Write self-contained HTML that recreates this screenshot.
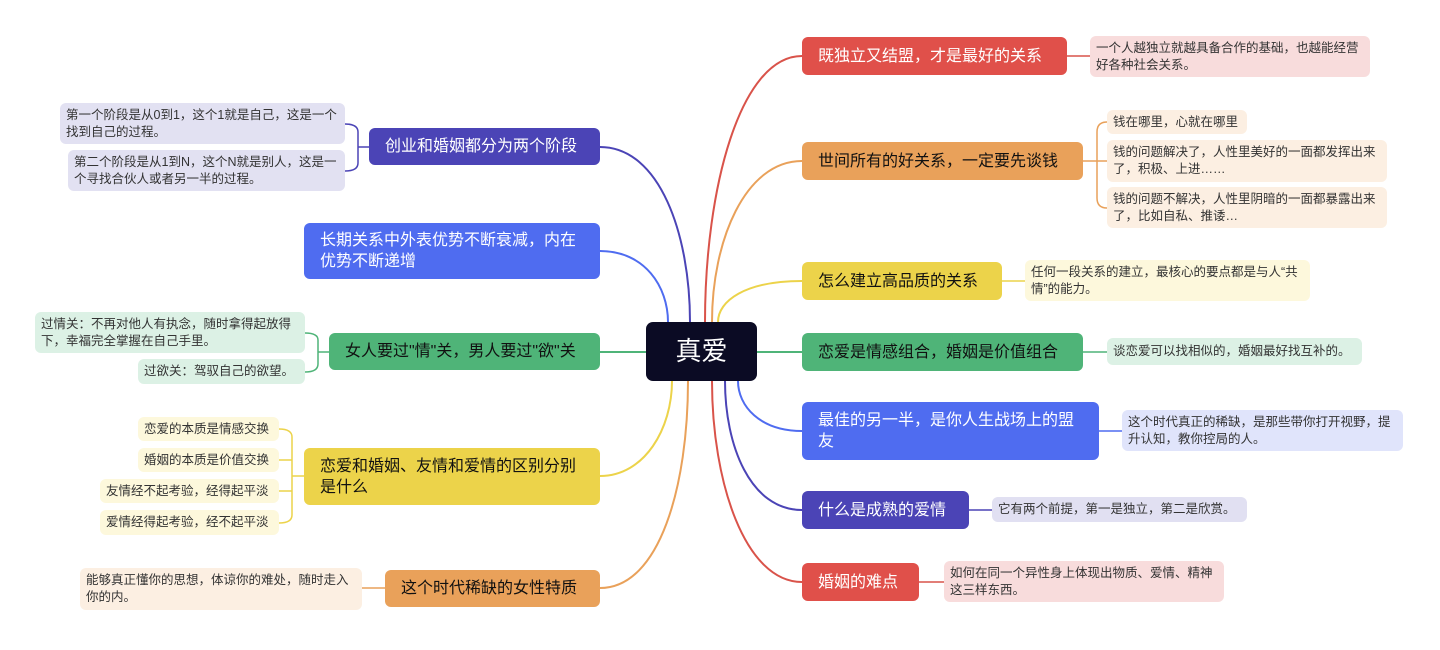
<!DOCTYPE html>
<html><head><meta charset="utf-8"><style>
body{margin:0;width:1440px;height:650px;background:#fff;position:relative;overflow:hidden;font-family:"Liberation Sans","Noto Sans CJK SC",sans-serif}
.n{position:absolute;box-sizing:border-box;border-radius:6px;display:flex;align-items:center;padding:0 16px;font-size:16px;line-height:21px}
.l{position:absolute;box-sizing:border-box;border-radius:6px;display:flex;align-items:center;padding:0 6px;font-size:12.5px;line-height:17px;color:#333}
.w{color:#fff}.d{color:#111}
svg{position:absolute;left:0;top:0}
</style></head><body>
<svg width="1440" height="650" fill="none" stroke-width="2">
<path d="M705,322 C705,189 740,56 802,56" stroke="#d9534a"/>
<path d="M712,322 C712,241 745,161 802,161" stroke="#e9a15a"/>
<path d="M718,322 C718,301 745,281 802,281" stroke="#ecd34a"/>
<path d="M757,352 L802,352" stroke="#4fb478"/>
<path d="M738,381 C738,406 760,431 802,431" stroke="#4f6cf0"/>
<path d="M725,381 C725,445 750,510 802,510" stroke="#4b44b6"/>
<path d="M712,381 C712,482 745,582 802,582" stroke="#d9534a"/>
<path d="M690,322 C690,235 660,147 600,147" stroke="#4b44b6"/>
<path d="M668,322 C668,287 645,251 600,251" stroke="#4f6cf0"/>
<path d="M646,352 L600,352" stroke="#4fb478"/>
<path d="M672,381 C672,428 645,476 600,476" stroke="#ecd34a"/>
<path d="M688,381 C688,485 660,588 600,588" stroke="#e9a15a"/>
<path d="M1067,56 L1090,56" stroke="#d9534a" stroke-width="1.5"/>
<path d="M1083,161 L1097,161 M1107,122 Q1097,122 1097,132 L1097,198 Q1097,208 1107,208 M1097,161 L1107,161" stroke="#e9a15a" stroke-width="1.5"/>
<path d="M1002,281 L1025,281" stroke="#ecd34a" stroke-width="1.5"/>
<path d="M1083,352 L1107,352" stroke="#4fb478" stroke-width="1.5"/>
<path d="M1099,431 L1122,431" stroke="#4f6cf0" stroke-width="1.5"/>
<path d="M969,510 L992,510" stroke="#4b44b6" stroke-width="1.5"/>
<path d="M919,582 L944,582" stroke="#d9534a" stroke-width="1.5"/>
<path d="M369,147 L358,147 M345,124 Q358,124 358,132 L358,163 Q358,171 345,171" stroke="#4b44b6" stroke-width="1.5"/>
<path d="M329,352 L318,352 M305,333 Q318,333 318,340 L318,364 Q318,372 305,372" stroke="#4fb478" stroke-width="1.5"/>
<path d="M304,476 L292,476 M279,429 Q292,429 292,437 L292,515 Q292,523 279,523 M279,460 L292,460 M279,491 L292,491" stroke="#ecd34a" stroke-width="1.5"/>
<path d="M385,588 L362,588" stroke="#e9a15a" stroke-width="1.5"/>
</svg>
<div class="n w" style="left:646px;top:322px;width:111px;height:59px;background:#0b0b24;justify-content:center;font-size:26px;border-radius:7px">真爱</div>

<div class="n w" style="left:802px;top:37px;width:265px;height:38px;background:#e0504a">既独立又结盟，才是最好的关系</div>
<div class="l" style="left:1090px;top:36px;width:280px;height:41px;background:#f8dcdc">一个人越独立就越具备合作的基础，也越能经营好各种社会关系。</div>
<div class="n d" style="left:802px;top:142px;width:281px;height:38px;background:#e9a15a">世间所有的好关系，一定要先谈钱</div>
<div class="l" style="left:1107px;top:110px;width:140px;height:24px;background:#fcefe2">钱在哪里，心就在哪里</div>
<div class="l" style="left:1107px;top:140px;width:280px;height:42px;background:#fcefe2">钱的问题解决了，人性里美好的一面都发挥出来了，积极、上进……</div>
<div class="l" style="left:1107px;top:187px;width:280px;height:41px;background:#fcefe2">钱的问题不解决，人性里阴暗的一面都暴露出来了，比如自私、推诿…</div>
<div class="n d" style="left:802px;top:262px;width:200px;height:38px;background:#ecd34a">怎么建立高品质的关系</div>
<div class="l" style="left:1025px;top:260px;width:285px;height:41px;background:#fdf8dc">任何一段关系的建立，最核心的要点都是与人“共情”的能力。</div>
<div class="n d" style="left:802px;top:333px;width:281px;height:38px;background:#4fb478">恋爱是情感组合，婚姻是价值组合</div>
<div class="l" style="left:1107px;top:338px;width:255px;height:27px;background:#dcf1e5">谈恋爱可以找相似的，婚姻最好找互补的。</div>
<div class="n w" style="left:802px;top:402px;width:297px;height:58px;background:#4f6cf0">最佳的另一半，是你人生战场上的盟友</div>
<div class="l" style="left:1122px;top:410px;width:281px;height:41px;background:#e0e4fb">这个时代真正的稀缺，是那些带你打开视野，提升认知，教你控局的人。</div>
<div class="n w" style="left:802px;top:491px;width:167px;height:38px;background:#4b44b6">什么是成熟的爱情</div>
<div class="l" style="left:992px;top:497px;width:255px;height:25px;background:#e1e0f2">它有两个前提，第一是独立，第二是欣赏。</div>
<div class="n w" style="left:802px;top:563px;width:117px;height:38px;background:#e0504a">婚姻的难点</div>
<div class="l" style="left:944px;top:561px;width:280px;height:41px;background:#f8dcdc">如何在同一个异性身上体现出物质、爱情、精神这三样东西。</div>

<div class="n w" style="left:369px;top:128px;width:231px;height:37px;background:#4b44b6">创业和婚姻都分为两个阶段</div>
<div class="l" style="left:60px;top:103px;width:285px;height:41px;background:#e2e1f2">第一个阶段是从0到1，这个1就是自己，这是一个找到自己的过程。</div>
<div class="l" style="left:68px;top:150px;width:277px;height:41px;background:#e2e1f2">第二个阶段是从1到N，这个N就是别人，这是一个寻找合伙人或者另一半的过程。</div>
<div class="n w" style="left:304px;top:223px;width:296px;height:56px;background:#4f6cf0">长期关系中外表优势不断衰减，内在优势不断递增</div>
<div class="n d" style="left:329px;top:333px;width:271px;height:37px;background:#4fb478">女人要过"情"关，男人要过"欲"关</div>
<div class="l" style="left:35px;top:312px;width:270px;height:41px;background:#dcf1e5">过情关：不再对他人有执念，随时拿得起放得下，幸福完全掌握在自己手里。</div>
<div class="l" style="left:138px;top:359px;width:167px;height:25px;background:#dcf1e5">过欲关：驾驭自己的欲望。</div>
<div class="n d" style="left:304px;top:448px;width:296px;height:57px;background:#ecd34a">恋爱和婚姻、友情和爱情的区别分别是什么</div>
<div class="l" style="left:138px;top:417px;width:141px;height:24px;background:#fdf8dc">恋爱的本质是情感交换</div>
<div class="l" style="left:138px;top:448px;width:141px;height:24px;background:#fdf8dc">婚姻的本质是价值交换</div>
<div class="l" style="left:100px;top:479px;width:179px;height:24px;background:#fdf8dc">友情经不起考验，经得起平淡</div>
<div class="l" style="left:100px;top:510px;width:179px;height:25px;background:#fdf8dc">爱情经得起考验，经不起平淡</div>
<div class="n d" style="left:385px;top:570px;width:215px;height:37px;background:#e9a15a">这个时代稀缺的女性特质</div>
<div class="l" style="left:80px;top:568px;width:282px;height:42px;background:#fcefe2">能够真正懂你的思想，体谅你的难处，随时走入你的内。</div>
</body></html>
